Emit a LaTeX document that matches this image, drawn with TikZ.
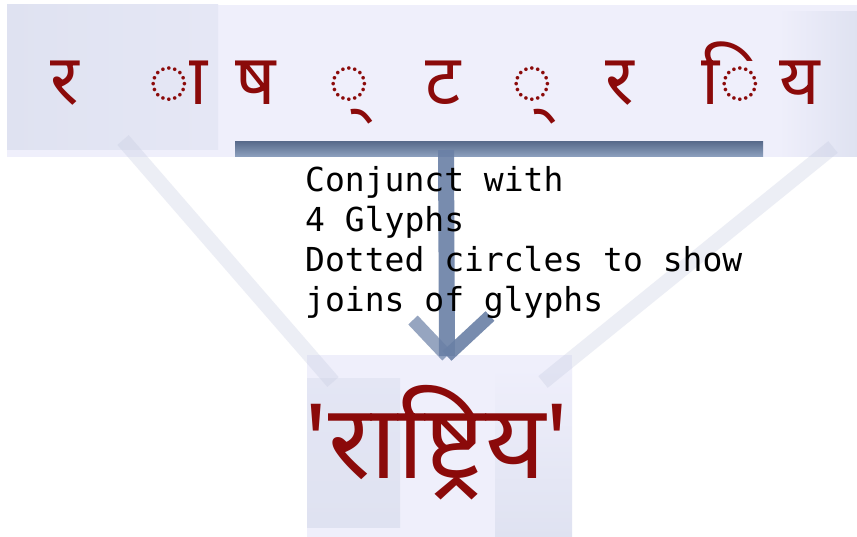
\documentclass[tikz,border=0pt]{standalone}
\usepackage{fontspec}
\newfontfamily\deva[Script=Devanagari]{Noto Sans}
\newfontfamily\monof{DejaVu Sans Mono}
\usetikzlibrary{calc}
\definecolor{glyphred}{HTML}{8B0A0A}
\definecolor{band}{HTML}{EFEFFB}
\definecolor{boxdark}{HTML}{DFE2F1}
\definecolor{barblue}{HTML}{6A80A6}
\definecolor{barlight}{HTML}{8FA2C0}
\definecolor{diag}{HTML}{C5CBE0}
\tikzset{
  glyph/.style={font=\deva\fontsize{70}{70}\selectfont, text=glyphred, anchor=base, inner sep=0pt},
  word/.style={font=\deva\fontsize{104}{104}\selectfont, text=glyphred, anchor=base, inner sep=0pt},
  note/.style={font=\monof\fontsize{33}{40}\selectfont, align=left, anchor=north west, inner sep=0pt},
  diagline/.style={draw=diag, line width=15pt, opacity=0.32},
  barline/.style={draw=barblue, line width=15pt, opacity=0.9},
}
\begin{document}
\begin{tikzpicture}[x=1pt,y=-1pt]
\useasboundingbox (0,0) rectangle (857,537);
\fill[white] (0,0) rectangle (857,537);
% top band
\fill[band] (7,5) rectangle (857,157);
\shade[left color=boxdark, right color=boxdark!60!band] (7,5) rectangle (218,150);
\shade[left color=band, right color=boxdark] (779,12) rectangle (857,157);
\node (top) at (432,81) {};
% bottom box
\fill[band] (307,355) rectangle (572,537);
\shade[top color=boxdark!70!band, bottom color=boxdark] (307,378) rectangle (400,527);
\shade[top color=band, bottom color=boxdark] (495,367) rectangle (572,537);
% glyphs
\node[glyph] (g1) at (65,105) {र};
\node[glyph] (g2) at (178,105) {◌ा};
\node[glyph] (g3) at (256,105) {ष};
\node[glyph] (g4) at (349,105) {◌्};
\node[glyph] (g5) at (443,105) {ट};
\node[glyph] (g6) at (532,105) {◌्};
\node[glyph] (g7) at (620,105) {र};
\node[glyph] (g8) at (731,105) {◌ि};
\node[glyph] (g9) at (800,105) {य};
% result word
\node[word] (res) at (437,478) {'राष्ट्रिय'};
% diagonal connectors
\coordinate (dl1) at (123,140);
\coordinate (dl2) at (333,382);
\coordinate (dr1) at (833,147);
\coordinate (dr2) at (543,382);
\draw[diagline] (dl1) -- (dl2);
\draw[diagline] (dr1) -- (dr2);
% main bar and arrow
\coordinate (bm) at (446,150);
\coordinate (tip) at (447,356);
\coordinate (al) at (413,320);
\coordinate (ar) at (490,316);
\shade[top color=barblue!85!black, bottom color=barlight] (235,142) rectangle (763,157);
\draw[barline, line width=16pt] (bm) -- (tip);
\draw[barline, line width=13pt, opacity=0.7] (al) -- (tip);
\draw[barline, line width=13pt] (ar) -- (tip);
% note
\node[note] (lbl) at (305,166) {Conjunct with\\4 Glyphs\\Dotted circles to show\\joins of glyphs};
\end{tikzpicture}
\end{document}
